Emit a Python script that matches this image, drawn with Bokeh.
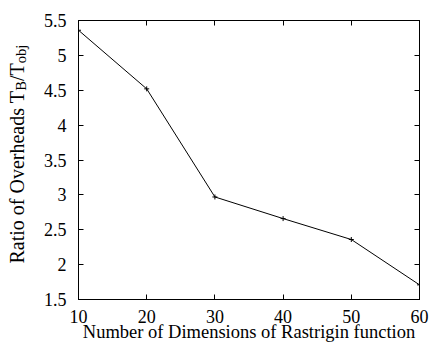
import math
from bokeh.plotting import figure
from bokeh.layouts import row
from bokeh.models import LinearAxis, FixedTicker, CustomJSTickFormatter, Range1d, ColumnDataSource
from bokeh.core.properties import value
from bokeh.embed import file_html
from bokeh.resources import INLINE

# data
dimensions = [10, 20, 30, 40, 50, 60]
ratio = [5.36, 4.52, 2.97, 2.66, 2.36, 1.71]

x_ticks = [10, 20, 30, 40, 50, 60]
x_tick_labels = ["10", "20", "30", "40", "50", "60"]
y_ticks = [1.5, 2, 2.5, 3, 3.5, 4, 4.5, 5, 5.5]
y_tick_labels = ["1.5", "2", "2.5", "3", "3.5", "4", "4.5", "5", "5.5"]

x_title = "Number of Dimensions of Rastrigin function"
y_title_parts = ["Ratio of Overheads T", "B", "/T", "obj"]

FONT = "Liberation Serif, Times New Roman, serif"

W, H = 429, 345
LAB_W = 36
FRAME_TOP, FRAME_BOTTOM = 20, 299

# ---- main plot ----
p = figure(width=W - LAB_W, height=H, output_backend="svg", toolbar_location=None,
           x_range=Range1d(10, 60), y_range=Range1d(1.5, 5.5),
           min_border_left=78 - LAB_W, min_border_right=10,
           min_border_top=FRAME_TOP, min_border_bottom=H - FRAME_BOTTOM)
p.background_fill_color = "white"
p.border_fill_color = "white"
p.outline_line_color = "black"
p.outline_line_width = 1
p.xgrid.visible = False
p.ygrid.visible = False

p.line(dimensions, ratio, line_color="black", line_width=1)
p.scatter(dimensions, ratio, marker="cross", size=5, line_color="black", line_width=1)

def style_axis(ax, ticks, labels, show_labels=True):
    ax.ticker = FixedTicker(ticks=ticks, minor_ticks=[])
    ax.major_tick_in = 5
    ax.major_tick_out = 0
    ax.minor_tick_in = 0
    ax.minor_tick_out = 0
    ax.major_tick_line_color = "black"
    ax.axis_line_color = "black"
    ax.major_label_text_font = FONT
    ax.major_label_text_color = "black"
    if show_labels:
        ax.major_label_overrides = {t: l for t, l in zip(ticks, labels)}
        ax.major_label_text_font_size = "18px"
    else:
        ax.formatter = CustomJSTickFormatter(code="return ''")
        ax.major_label_text_font_size = "0px"
        ax.major_label_standoff = 0

xa = p.xaxis[0]
style_axis(xa, x_ticks, x_tick_labels)
xa.major_label_standoff = 10
xa.axis_label = x_title
xa.axis_label_text_font = FONT
xa.axis_label_text_font_style = "normal"
xa.axis_label_text_font_size = "18.5px"
xa.axis_label_text_color = "black"
xa.axis_label_standoff = -4

ya = p.yaxis[0]
style_axis(ya, y_ticks, y_tick_labels)
ya.major_label_standoff = 12

top = LinearAxis()
style_axis(top, x_ticks, x_tick_labels, show_labels=False)
p.add_layout(top, "above")
right = LinearAxis()
style_axis(right, y_ticks, y_tick_labels, show_labels=False)
p.add_layout(right, "right")

# ---- y-axis title with subscripts (rotated text in a narrow strip) ----
# the strip's frame lines up with the main frame, so its y range is in page pixels from the bottom
lab = figure(width=LAB_W, height=H, output_backend="svg", toolbar_location=None,
             x_range=Range1d(0, LAB_W), y_range=Range1d(H - FRAME_BOTTOM, H - FRAME_TOP),
             min_border_left=0, min_border_right=0,
             min_border_top=FRAME_TOP, min_border_bottom=H - FRAME_BOTTOM,
             x_axis_location=None, y_axis_location=None)
lab.outline_line_color = None
lab.xgrid.visible = False
lab.ygrid.visible = False
lab.background_fill_color = "white"
lab.border_fill_color = "white"

fs_main = 20.0
fs_sub = 14.5
w_main = 8.637 * fs_main
w_B = 0.667 * fs_sub
w_slashT = 0.889 * fs_main
y0 = H - 263
xb = 16
src = ColumnDataSource(dict(
    x=[xb, xb + 4, xb, xb + 4],
    y=[y0, y0 + w_main, y0 + w_main + w_B, y0 + w_main + w_B + w_slashT],
    text=y_title_parts,
    size=[f"{fs_main}px", f"{fs_sub}px", f"{fs_main}px", f"{fs_sub}px"],
))
lab.text(x="x", y="y", text="text", source=src, angle=math.pi / 2,
         text_font=value(FONT), text_font_size="size", text_color="black",
         text_align="left", text_baseline="alphabetic")

layout = row(lab, p, spacing=0)
open("out.html", "w").write(file_html(layout, INLINE))
